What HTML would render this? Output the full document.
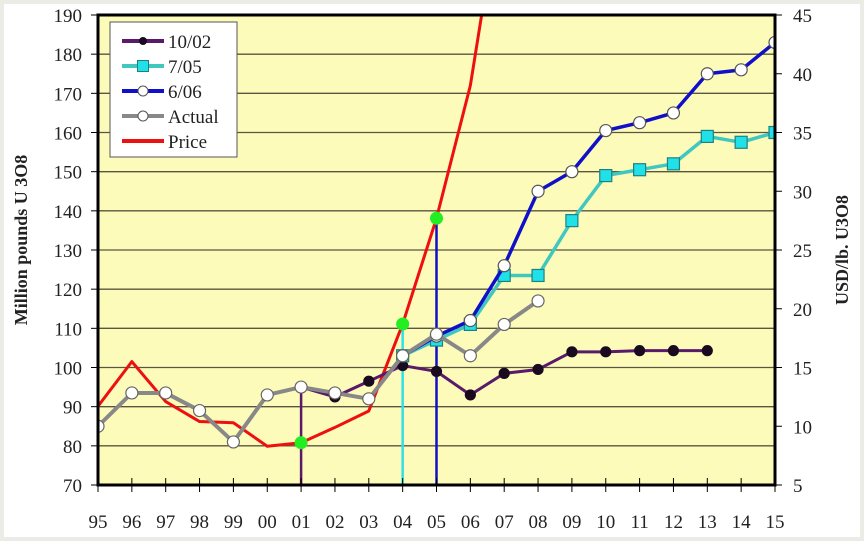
<!DOCTYPE html>
<html><head><meta charset="utf-8"><style>
html,body{margin:0;padding:0;background:#ecece6;}
svg{display:block;}
text{font-family:"Liberation Serif",serif;fill:#222;}
</style></head><body>
<svg id="chart" width="864" height="541" viewBox="0 0 864 541">
<rect x="4" y="4" width="856" height="533" fill="#ffffff"/>
<defs><clipPath id="pc"><rect x="98" y="15" width="677" height="470"/></clipPath></defs>
<rect x="98" y="15" width="677" height="470" fill="#fdfbba"/>
<g id="grid"></g>
<g id="series" clip-path="url(#pc)"></g>
<g id="axes"></g>
<g id="legend"></g>
</svg>
<script>
const years = ["95","96","97","98","99","00","01","02","03","04","05","06","07","08","09","10","11","12","13","14","15"];
const leftTicks = [70,80,90,100,110,120,130,140,150,160,170,180,190];
const rightTicks = [5,10,15,20,25,30,35,40,45];
const actual = [85,93.5,93.5,89,81,93,95,93.5,92,103,108.5,103,111,117];
const s1002 = [null,null,null,null,null,null,95,92.5,96.5,100.5,99,93,98.5,99.5,104,104,104.3,104.3,104.3];
const s705 = [null,null,null,null,null,null,null,null,null,103,107,111,123.5,123.5,137.5,149,150.5,152,159,157.5,160];
const s606 = [null,null,null,null,null,null,null,null,null,103,108,112,126,145,150,160.5,162.5,165,175,176,183];
const price = [11.7,15.5,12.1,10.4,10.3,8.3,8.6,9.9,11.3,18.7,27.7,39,57];
const greenIdx = [6,9,10];

const NS="http://www.w3.org/2000/svg";
const X0=98,X1=775,Y0=485,Y1=15;
const xs=i=>X0+i*(X1-X0)/20;
const yl=v=>Y0-(v-70)*(Y0-Y1)/120;
const yr=v=>Y0-(v-5)*(Y0-Y1)/40;
function mk(tag,attrs,parent){const e=document.createElementNS(NS,tag);for(const k in attrs)e.setAttribute(k,attrs[k]);parent.appendChild(e);return e;}
const grid=document.getElementById('grid'),ser=document.getElementById('series'),axes=document.getElementById('axes'),leg=document.getElementById('legend');

leftTicks.forEach(v=>{
  if(v>70&&v<190){const l=mk('line',{x1:X0,x2:X1,y1:yl(v),y2:yl(v),stroke:'#5a5540','stroke-width':1.3},grid);
  
  }
  const t=mk('line',{x1:X0-7,x2:X0,y1:yl(v),y2:yl(v),stroke:'#000','stroke-width':1},axes);
  
  
  const tx=mk('text',{x:82,y:yl(v)+7,'text-anchor':'end','font-size':19},axes);tx.textContent=v;
  
  
});
rightTicks.forEach(v=>{
  const t=mk('line',{x1:X1,x2:X1+7,y1:yr(v),y2:yr(v),stroke:'#000','stroke-width':1},axes);
  
  
  const tx=mk('text',{x:X1+18,y:yr(v)+7,'font-size':19},axes);tx.textContent=v;
  
  
});
years.forEach((y,i)=>{
  const t=mk('line',{x1:xs(i),x2:xs(i),y1:Y0-7,y2:Y0+7,stroke:'#000','stroke-width':1},axes);
  
  
  const tx=mk('text',{x:xs(i),y:528,'text-anchor':'middle','font-size':19},axes);tx.textContent=y;
  
  
});
let a=mk('path',{d:`M${X0},${Y1}H${X1}V${Y0}H${X0}Z`,fill:'none',stroke:'#000','stroke-width':3},axes);


let t1=mk('text',{transform:`translate(27,240) rotate(-90)`,'text-anchor':'middle','font-size':18,'font-weight':'bold'},axes);
t1.textContent='Million pounds U 3O8';


let t2=mk('text',{transform:`translate(848,250) rotate(-90)`,'text-anchor':'middle','font-size':18,'font-weight':'bold'},axes);
t2.textContent='USD/lb. U3O8';



let v1=mk('line',{x1:xs(6),x2:xs(6),y1:yl(95),y2:Y0,stroke:'#5a1a6a','stroke-width':2.5},ser);

let v2=mk('line',{x1:xs(9),x2:xs(9),y1:yr(price[9]),y2:Y0,stroke:'#30e0e8','stroke-width':2.5},ser);

let v3=mk('line',{x1:xs(10),x2:xs(10),y1:yr(price[10]),y2:Y0,stroke:'#1010c8','stroke-width':2.5},ser);


function line(arr,yf,color,w,name){
  const pts=[];arr.forEach((v,i)=>{if(v!=null)pts.push([xs(i),yf(v)]);});
  const p=mk('polyline',{points:pts.map(p=>p.join(',')).join(' '),fill:'none',stroke:color,'stroke-width':w,'stroke-linejoin':'round'},ser);
  
  
  return pts;
}
function markers(pts,type,fill,stroke,name){
  pts.forEach(([x,y])=>{
    let m;
    if(type==='sq')m=mk('rect',{x:x-6,y:y-6,width:12,height:12,fill:fill,stroke:stroke,'stroke-width':1.2},ser);
    else m=mk('circle',{cx:x,cy:y,r:type==='dot'?5:6,fill:fill,stroke:stroke,'stroke-width':1.2},ser);
    
    
  });
}
let pr=line(price,yr,'#ee1010',3,'price-line');
let p1=line(s1002,yl,'#5a1a6a',3,'series-10-02-line');markers(p1,'dot','#1a0a20','#1a0a20','series-10-02-point');
let p2=line(s705,yl,'#40c8c0',3.5,'series-7-05-line');markers(p2,'sq','#20e0e8','#208080','series-7-05-point');
let p3=line(s606,yl,'#1010c8',3.5,'series-6-06-line');markers(p3,'circ','#fff','#555','series-6-06-point');
let p4=line(actual,yl,'#888888',4,'actual-line');markers(p4,'circ','#fff','#666','actual-point');
greenIdx.forEach(i=>{const g=mk('circle',{cx:xs(i),cy:yr(price[i]),r:6.5,fill:'#22ee22'},ser);
  
  });

let lb=mk('rect',{x:110,y:22,width:127,height:135,fill:'#fff',stroke:'#555','stroke-width':1},leg);

const legItems=[['10/02','#5a1a6a','dot'],['7/05','#40c8c0','sq'],['6/06','#1010c8','circ'],['Actual','#888','circ'],['Price','#ee1010','none']];
legItems.forEach((it,k)=>{
  const y=41+k*25;
  const g=mk('g',{},leg);
  
  
  mk('line',{x1:122,x2:164,y1:y,y2:y,stroke:it[1],'stroke-width':4},g);
  if(it[2]==='dot')mk('circle',{cx:143,cy:y,r:4,fill:'#1a0a20'},g);
  if(it[2]==='sq')mk('rect',{x:137.5,y:y-5.5,width:11,height:11,fill:'#20e0e8',stroke:'#208080'},g);
  if(it[2]==='circ')mk('circle',{cx:143,cy:y,r:5,fill:'#fff',stroke:'#555'},g);
  const tx=mk('text',{x:168,y:y+7,'font-size':19},g);tx.textContent=it[0];
});
</script>
</body></html>
